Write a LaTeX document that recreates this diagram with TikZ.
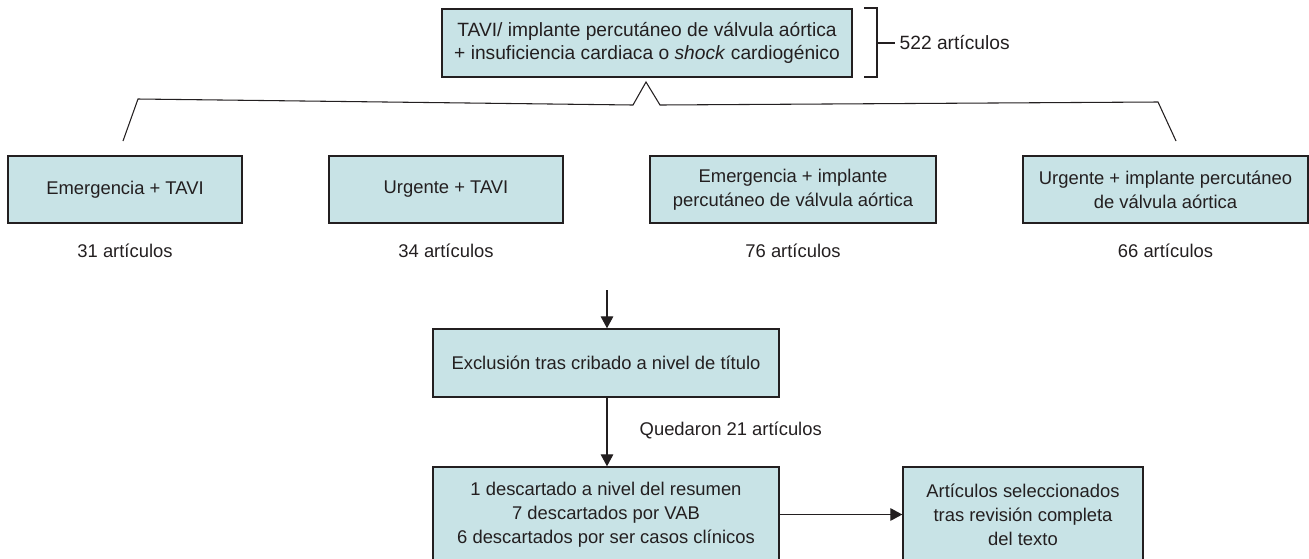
\documentclass[tikz,border=0pt]{standalone}
\usepackage{fontspec}
\setmainfont{Liberation Sans}
\usetikzlibrary{arrows.meta}

\definecolor{boxfill}{RGB}{200,227,230}
\definecolor{ink}{RGB}{35,31,32}

\begin{document}
\begin{tikzpicture}[x=0.75pt, y=-0.75pt,
  font=\fontsize{13.8}{18}\selectfont, text=ink,
  box/.style={draw=ink, line width=1.1pt, fill=boxfill, align=center,
    inner sep=0pt, minimum height=50.25pt},
  arr/.style={draw=ink, line width=0.9pt, -{Triangle[length=9pt,width=9.5pt]}},
  thin/.style={draw=ink, line width=0.8pt}]
\useasboundingbox (0,0) rectangle (1309,558);

%% ---- search terms and total ----------------------------
\node[box, minimum width=307.5pt, minimum height=51pt,
      font=\fontsize{14.4}{17.5}\selectfont] (search) at (647,43)
  {TAVI/ implante percutáneo de válvula aórtica\\
   + insuficiencia cardiaca o \textit{shock} cardiogénico};
\node[anchor=west, font=\fontsize{14.4}{17.5}\selectfont] (total) at (895,43)
  {522 artículos};
\draw[thin] (864,8) -- (877,8) -- (877,77) -- (864,77);
\draw[thin] (877,43) -- (total.west);

% branching line down to the four searches
\coordinate (bl) at (123,141);
\coordinate (br) at (1176,141);
\coordinate (peak) at (646,82);
\draw[thin] (bl) -- (138,99) -- (633,105) -- (peak)
  -- (660,105) -- (1158,102) -- (br);

%% ---- the four searches ---------------------------------
\node[box, minimum width=175.5pt] (emtavi) at (125,189.5) {Emergencia + TAVI};
\node[box, minimum width=175.5pt] (urtavi) at (446,189.5) {Urgente + TAVI};
\node[box, minimum width=214.5pt] (emimpl) at (793,189.5)
  {Emergencia + implante\\percutáneo de válvula aórtica};
\node[box, minimum width=213.75pt] (urimpl) at (1165.5,189.5)
  {Urgente + implante percutáneo\\de válvula aórtica};

% counts below each box
\foreach \n/\x/\c in {nemtavi/125/31, nurtavi/446/34, nemimpl/793/76, nurimpl/1165.5/66} {
  \node (\n) at (\x,251) {\c\ artículos};
}

%% ---- screening -----------------------------------------
\coordinate (pool) at (607,290);
\node[box, minimum width=259.5pt, minimum height=51pt] (titulo) at (606,363)
  {Exclusión tras cribado a nivel de título};
\node[box, minimum width=259.5pt, minimum height=71.25pt] (resumen) at (606,514.5)
  {1 descartado a nivel del resumen\\7 descartados por VAB\\
   6 descartados por ser casos clínicos};
\node[box, minimum width=180pt, minimum height=71.25pt] (final) at (1023,514.5)
  {Artículos seleccionados\\tras revisión completa\\del texto};

\draw[arr] (pool) -- (pool |- titulo.north);
\draw[arr] (pool |- titulo.south) -- (pool |- resumen.north);
\node[anchor=west] (quedan) at (635,430) {Quedaron 21 artículos};
\draw[arr] (resumen.east) -- (final.west);

\end{tikzpicture}
\end{document}
